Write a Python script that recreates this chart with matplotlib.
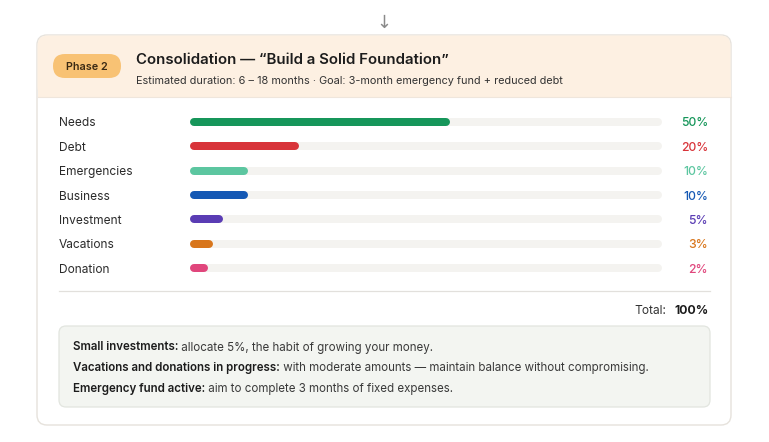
import matplotlib
matplotlib.use("Agg")
import matplotlib.pyplot as plt
from matplotlib.patches import FancyBboxPatch

plt.rcParams['font.family'] = ['Inter', 'DejaVu Sans']

# Données
categories = ["Needs", "Debt", "Emergencies", "Business", "Investment", "Vacations", "Donation"]
values = [50, 20, 10, 10, 5, 3, 2]
colors = ["#16965a", "#d8343a", "#5cc6a0", "#1458b4", "#5a3cb4", "#d8761c", "#e0467c"]
total_label = "100%"
phase = "Phase 2"
title = "Consolidation \u2014 \u201cBuild a Solid Foundation\u201d"
subtitle = "Estimated duration: 6 \u2013 18 months \u00b7 Goal: 3-month emergency fund + reduced debt"
notes = [
    ("Small investments:", " allocate 5%, the habit of growing your money."),
    ("Vacations and donations in progress:", " with moderate amounts \u2014 maintain balance without compromising."),
    ("Emergency fund active:", " aim to complete 3 months of fixed expenses."),
]
track_max = 92

W, H = 769, 442
fig = plt.figure(figsize=(W / 100, H / 100), dpi=100)
fig.patch.set_facecolor("white")

# Axe de fond en pixels
bg = fig.add_axes([0, 0, 1, 1])
bg.set_xlim(0, W)
bg.set_ylim(H, 0)
bg.axis("off")

# Carte
card = FancyBboxPatch((37, 35), 694, 390, boxstyle="round,pad=0,rounding_size=10",
                      fc="white", ec="#e6e2dc", lw=1)
bg.add_patch(card)
head = FancyBboxPatch((37.5, 35.5), 693, 61.5, boxstyle="round,pad=0,rounding_size=10",
                      fc="#fdf0e2", ec="none")
bg.add_patch(head)
bg.add_patch(plt.Rectangle((37.5, 80), 693, 17, fc="#fdf0e2", ec="none"))
bg.plot([37.5, 730.5], [97, 97], color="#efe6dc", lw=0.8)

# Flèche
bg.text(384, 23, "\u2193", ha="center", va="center", fontsize=13, color="#8a8a8a",
        family=["Noto Sans", "DejaVu Sans"])

# Pastille
pill = FancyBboxPatch((53, 54), 68, 24, boxstyle="round,pad=0,rounding_size=12",
                      fc="#f8c274", ec="none")
bg.add_patch(pill)
bg.text(87, 67, phase, ha="center", va="center", fontsize=7.8, fontweight="semibold",
        color="#3a2a14")

bg.text(136, 60, title, ha="left", va="center", fontsize=10.8, fontweight="semibold", color="#1c1c1c")
bg.text(136, 81, subtitle, ha="left", va="center", fontsize=7.85, color="#333333")

# Barres
row_y0, row_dy = 122, 24.35
top = row_y0 - row_dy / 2
bottom = row_y0 + row_dy * (len(categories) - 0.5)
ax = fig.add_axes([194 / W, 1 - bottom / H, (658 - 194) / W, (bottom - top) / H])
ax.set_xlim(0, track_max)
ax.set_ylim(len(categories) - 0.5, -0.5)
ax.axis("off")
lw = 8 * 72 / 100
for i, (cat, v, c) in enumerate(zip(categories, values, colors)):
    ax.plot([0, track_max], [i, i], color="#f4f3f0", lw=lw, solid_capstyle="round", clip_on=False)
    ax.plot([0, v], [i, i], color=c, lw=lw, solid_capstyle="round", clip_on=False)
    y = row_y0 + i * row_dy + 1.5
    bg.text(59, y, cat, ha="left", va="center", fontsize=8.6, color="#2b2b2b")
    bg.text(708, y, f"{v}%", ha="right", va="center", fontsize=8.8, fontweight="medium", color=c)

# Séparateur et total
bg.plot([59, 710], [291, 291], color="#e2e0dc", lw=0.9)
bg.text(709, 311, total_label, ha="right", va="center", fontsize=8.8, fontweight="bold", color="#1c1c1c")
bg.text(666, 311, "Total:", ha="right", va="center", fontsize=8.6, color="#333333")

# Boîte de notes
box = FancyBboxPatch((59, 326), 651, 81, boxstyle="round,pad=0,rounding_size=7",
                     fc="#f3f5f1", ec="#e2e5df", lw=0.9)
bg.add_patch(box)
fig.canvas.draw()
renderer = fig.canvas.get_renderer()
inv = bg.transData.inverted()
for k, (b, r) in enumerate(notes):
    y = 347.5 + k * 20.7
    t = bg.text(73, y, b, ha="left", va="center", fontsize=8.3, fontweight="semibold",
                color="#1c1c1c")
    ext = t.get_window_extent(renderer)
    x_end = inv.transform((ext.x1, ext.y0))[0]
    bg.text(x_end, y, r, ha="left", va="center", fontsize=8.3, color="#3a3a3a")

fig.savefig("out.png", dpi=100)
